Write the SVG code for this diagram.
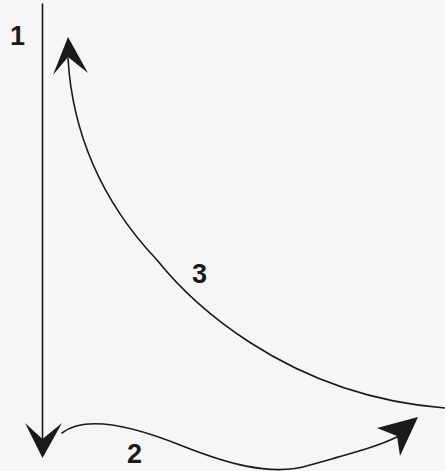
<svg xmlns="http://www.w3.org/2000/svg" width="445" height="471" viewBox="0 0 445 471">
  <style>
    .line { fill: none; stroke: #1a1a1a; stroke-width: 1.6; stroke-linecap: round; }
    .head { fill: #1a1a1a; stroke: none; }
    .label { font-family: "Liberation Sans", Arial, sans-serif; font-size: 27px; font-weight: bold; fill: #1a1a1a; }
  </style>
  <rect x="0" y="0" width="445" height="471" fill="#f6f6f6"/>
  <g id="connectors">
    <g id="arrow-1">
      <path class="line" d="M42.5,4 L42.5,445"/>
      <path class="head" d="M42.5,458 L25,423 L42.5,439 L62,423 Z"/>
    </g>
    <g id="arrow-3">
      <path class="line" d="M68,58 C72,130 100,200 157,260 C185,295 280,395 445,408"/>
      <path class="head" d="M68,37 L53,75 L68,57 L88,73 Z"/>
    </g>
    <g id="arrow-2">
      <path class="line" d="M62,433 C85,415 130,425 180,445 C220,461 270,478 310,465 C345,455 375,448 399,436"/>
      <path class="head" d="M418,417 L377,428 L397,436 L400,456 Z"/>
    </g>
  </g>
  <g id="label-1"><text class="label" x="10" y="45">1</text></g>
  <g id="label-3"><text class="label" x="192" y="283">3</text></g>
  <g id="label-2"><text class="label" x="127" y="463">2</text></g>
</svg>
